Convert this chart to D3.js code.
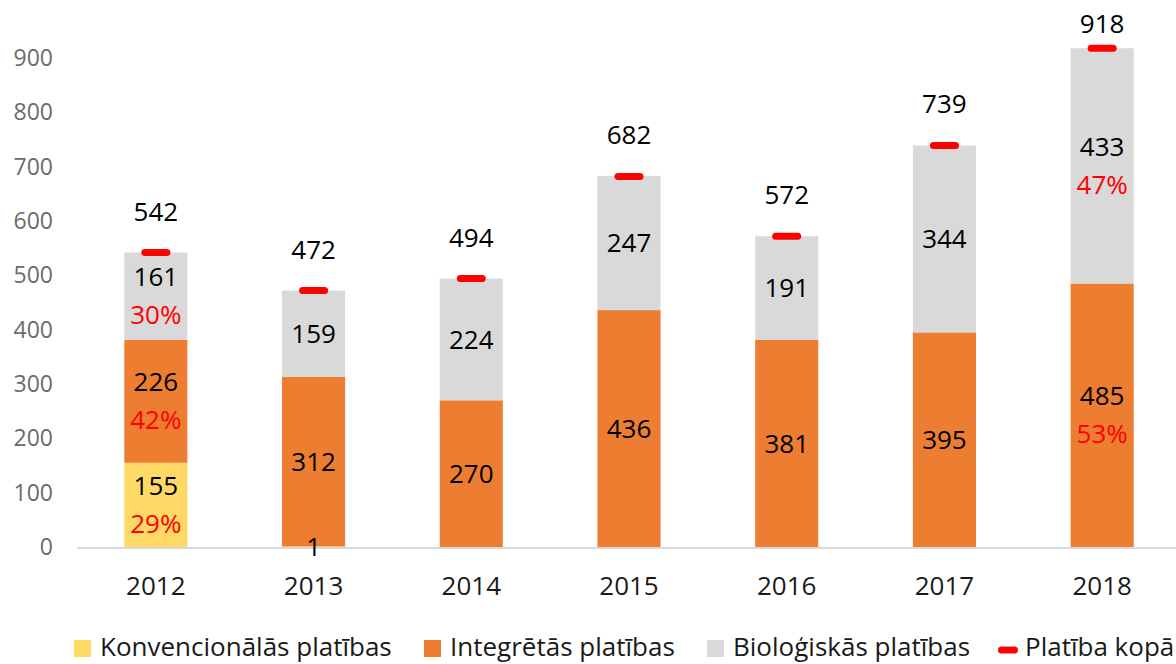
<!DOCTYPE html>
<html>
<head>
<meta charset="utf-8">
<script src="https://cdn.jsdelivr.net/npm/d3@7"></script>
<style>
  body { margin: 0; background: #fff; }
  svg text { font-family: "Open Sans", sans-serif; }
</style>
</head>
<body>
<div id="chart"></div>
<script>
var years = ['2012', '2013', '2014', '2015', '2016', '2017', '2018'];
var konvencionalas = [155, 1, 0, 0, 0, 0, 0];
var integretas = [226, 312, 270, 436, 381, 395, 485];
var biologiskas = [161, 159, 224, 247, 191, 344, 433];
var kopa = [542, 472, 494, 682, 572, 739, 918];
var konvPct = [29, null, null, null, null, null, null];
var integPct = [42, null, null, null, null, null, 53];
var bioPct = [30, null, null, null, null, null, 47];
var yTicks = [0, 100, 200, 300, 400, 500, 600, 700, 800, 900];

var seriesNames = ['Konvencionālās platības', 'Integrētās platības', 'Bioloģiskās platības', 'Platība kopā'];
var colors = ['#FFD966', '#ED7D31', '#D9D9D9', '#FF0000'];

var width = 1176, height = 664;

var svg = d3.select('#chart').append('svg')
    .attr('width', width)
    .attr('height', height);

var x = d3.scaleBand()
    .domain(years)
    .range([77, 1181])
    .paddingInner(0.6)
    .paddingOuter(0.3);

var y = d3.scaleLinear()
    .domain([0, 900])
    .range([547, 58]);

var series = [
  { values: konvencionalas, pct: konvPct, color: colors[0] },
  { values: integretas, pct: integPct, color: colors[1] },
  { values: biologiskas, pct: bioPct, color: colors[2] }
];

// stack segments by hand: base for each year
var segments = [];
years.forEach(function(yr, i) {
  var base = 0;
  series.forEach(function(s) {
    var v = s.values[i];
    segments.push({ year: yr, y0: base, y1: base + v, value: v, pct: s.pct[i], color: s.color });
    base += v;
  });
});

// y axis labels
svg.append('g').selectAll('text')
    .data(yTicks)
  .enter().append('text')
    .attr('x', 53)
    .attr('y', function(d) { return y(d); })
    .attr('dy', '0.35em')
    .attr('text-anchor', 'end')
    .attr('font-size', 23)
    .attr('fill', '#6b6b6b')
    .text(function(d) { return d; });

// bars
svg.append('g').selectAll('rect')
    .data(segments.filter(function(d) { return d.value > 0; }))
  .enter().append('rect')
    .attr('x', function(d) { return x(d.year); })
    .attr('width', x.bandwidth())
    .attr('y', function(d) { return y(d.y1); })
    .attr('height', function(d) { return y(d.y0) - y(d.y1); })
    .attr('fill', function(d) { return d.color; });

// axis line
svg.append('line')
    .attr('x1', x.range()[0])
    .attr('x2', x.range()[1])
    .attr('y1', y(0) + 1)
    .attr('y2', y(0) + 1)
    .attr('stroke', '#D9D9D9')
    .attr('stroke-width', 2);

// year labels
svg.append('g').selectAll('text')
    .data(years)
  .enter().append('text')
    .attr('x', function(d) { return x(d) + x.bandwidth() / 2; })
    .attr('y', 595)
    .attr('text-anchor', 'middle')
    .attr('font-size', 26)
    .attr('fill', '#1a1a1a')
    .text(function(d) { return d; });

// segment labels
var lbl = svg.append('g').selectAll('g')
    .data(segments.filter(function(d) { return d.value > 0; }))
  .enter().append('g')
    .attr('transform', function(d) {
      return 'translate(' + (x(d.year) + x.bandwidth() / 2) + ',' + y((d.y0 + d.y1) / 2) + ')';
    });

lbl.append('text')
    .attr('y', function(d) { return d.pct != null ? -19 : 0; })
    .attr('dy', '0.35em')
    .attr('text-anchor', 'middle')
    .attr('font-size', 26)
    .attr('fill', '#000')
    .text(function(d) { return d.value; });

lbl.filter(function(d) { return d.pct != null; }).append('text')
    .attr('y', 19)
    .attr('dy', '0.35em')
    .attr('text-anchor', 'middle')
    .attr('font-size', 26)
    .attr('fill', '#FF0000')
    .text(function(d) { return d.pct + '%'; });

// total markers
svg.append('g').selectAll('line')
    .data(kopa)
  .enter().append('line')
    .attr('x1', function(d, i) { return x(years[i]) + x.bandwidth() / 2 - 11; })
    .attr('x2', function(d, i) { return x(years[i]) + x.bandwidth() / 2 + 11; })
    .attr('y1', function(d) { return y(d); })
    .attr('y2', function(d) { return y(d); })
    .attr('stroke', colors[3])
    .attr('stroke-width', 7)
    .attr('stroke-linecap', 'round');

svg.append('g').selectAll('text')
    .data(kopa)
  .enter().append('text')
    .attr('x', function(d, i) { return x(years[i]) + x.bandwidth() / 2; })
    .attr('y', function(d) { return Math.max(y(d) - 32, 33); })
    .attr('text-anchor', 'middle')
    .attr('font-size', 26)
    .attr('fill', '#000')
    .text(function(d) { return d; });

// legend
var legendX = [74, 424, 707, 998];
var leg = svg.append('g').selectAll('g')
    .data(seriesNames)
  .enter().append('g')
    .attr('transform', function(d, i) { return 'translate(' + legendX[i] + ',648)'; });

leg.filter(function(d, i) { return i < 3; }).append('rect')
    .attr('x', 0)
    .attr('y', -8)
    .attr('width', 17)
    .attr('height', 17)
    .attr('fill', function(d, i) { return colors[i]; });

leg.filter(function(d, i) { return i === 3; }).append('line')
    .attr('x1', 3.5)
    .attr('x2', 16.5)
    .attr('y1', 2)
    .attr('y2', 2)
    .attr('stroke', colors[3])
    .attr('stroke-width', 7)
    .attr('stroke-linecap', 'round');

leg.append('text')
    .attr('x', function(d, i) { return i === 3 ? 27 : 26; })
    .attr('y', 0)
    .attr('dy', '0.3em')
    .attr('font-size', 26)
    .attr('fill', '#1a1a1a')
    .text(function(d) { return d; });
</script>
</body>
</html>
